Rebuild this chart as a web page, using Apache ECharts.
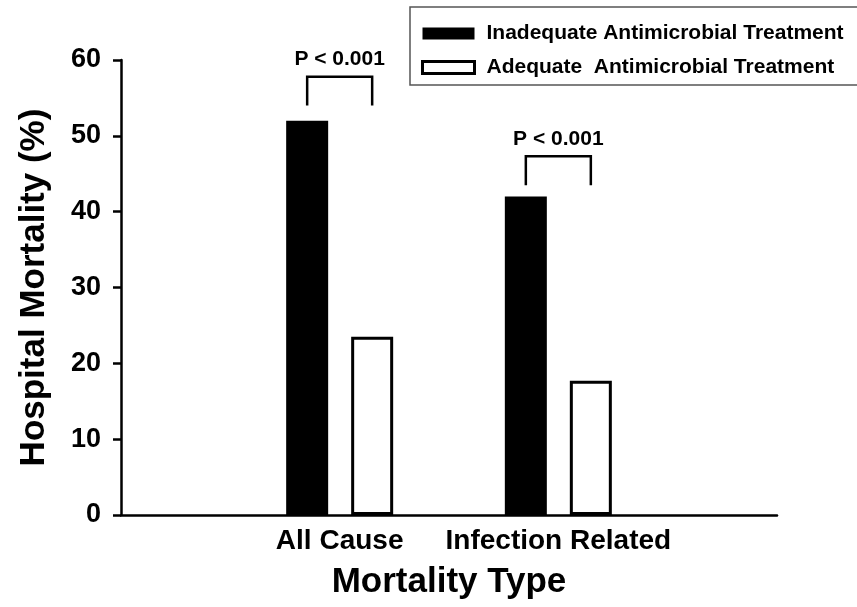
<!DOCTYPE html>
<html>
<head>
<meta charset="utf-8">
<title>Hospital Mortality</title>
<script src="https://cdn.jsdelivr.net/npm/echarts@6/dist/echarts.min.js"></script>
<style>
    html,body{margin:0;padding:0;background:#fff;}
    #main{width:857px;height:607px;}
</style>
</head>
<body>
<div id="main"></div>
<script>
// 数据
var categories = ['', 'All Cause', 'Infection Related', ''];
var inadequate = [null, 52, 42, null];
var adequate = [null, 23.5, 17.7, null];
var seriesNames = ['Inadequate Antimicrobial Treatment', 'Adequate  Antimicrobial Treatment'];
// P值括号: [类目序号, 下端, 上端, 文字]
var pIndex = [1, 2];
var pLow = [54, 43.5];
var pHigh = [57.8, 47.3];
var pText = ['P < 0.001', 'P < 0.001'];
var yTicks = [0, 10, 20, 30, 40, 50, 60];

var font = '"Liberation Sans", Arial, sans-serif';
var barW = 42;
var barGapPx = 23;

function bracketData(){
    var d = [];
    for(var i=0;i<pIndex.length;i++){
        d.push([pIndex[i], pLow[i], pHigh[i], pText[i]]);
    }
    return d;
}

function renderBracket(params, api){
    var off = (barW + barGapPx) / 2;
    var lo = api.coord([api.value(0), api.value(1)]);
    var hi = api.coord([api.value(0), api.value(2)]);
    var x1 = lo[0] - off, x2 = lo[0] + off;
    return {
        type: 'group',
        children: [{
            type: 'polyline',
            shape: {points: [[x1, lo[1]], [x1, hi[1]], [x2, hi[1]], [x2, lo[1]]]},
            style: {stroke: '#000', lineWidth: 2.5, fill: null}
        }, {
            type: 'text',
            x: lo[0], y: hi[1] - 17,
            style: {
                text: api.value(3),
                fill: '#000',
                font: 'bold 21px ' + font,
                align: 'center',
                verticalAlign: 'middle'
            }
        }]
    };
}

function myChart(){
    var chart = echarts.init(document.getElementById('main'));
    var option = {
        backgroundColor: '#fff',
        animation: false,
        grid: {left: 121, right: 80, top: 60, bottom: 92},
        legend: {
            orient: 'vertical',
            left: 421,
            top: 23,
            padding: 0,
            itemWidth: 52,
            itemHeight: 12,
            itemGap: 13,
            selectedMode: false,
            textStyle: {
                fontFamily: font,
                fontWeight: 'bold',
                fontSize: 21,
                lineHeight: 20,
                color: '#000',
                padding: [0, 0, 0, 7]
            },
            data: [
                {name: seriesNames[0], icon: 'rect', itemStyle: {color: '#000'}},
                {name: seriesNames[1], icon: 'rect', itemStyle: {color: '#fff', borderColor: '#000', borderWidth: 3}}
            ]
        },
        graphic: [{
            type: 'rect',
            shape: {x: 410, y: 7, width: 470, height: 78},
            style: {fill: null, stroke: '#555', lineWidth: 1.5},
            z: 10
        }],
        xAxis: {
            type: 'category',
            data: categories,
            boundaryGap: false,
            name: 'Mortality Type',
            nameLocation: 'middle',
            nameGap: 50,
            nameTextStyle: {fontFamily: font, fontWeight: 'bold', fontSize: 35, color: '#000', lineHeight: 35},
            axisLine: {lineStyle: {color: '#000', width: 2.5}},
            axisTick: {show: false},
            axisLabel: {
                interval: 0,
                margin: 12,
                fontFamily: font,
                fontWeight: 'bold',
                fontSize: 28,
                color: '#000'
            },
            splitLine: {show: false}
        },
        yAxis: {
            type: 'value',
            min: yTicks[0],
            max: yTicks[yTicks.length - 1],
            interval: 10,
            name: 'Hospital Mortality (%)',
            nameLocation: 'middle',
            nameGap: 69,
            nameTextStyle: {fontFamily: font, fontWeight: 'bold', fontSize: 35, color: '#000', lineHeight: 35},
            axisLine: {show: true, lineStyle: {color: '#000', width: 2.5}},
            axisTick: {show: true, length: 8, lineStyle: {color: '#000', width: 2.5}},
            axisLabel: {
                margin: 20,
                fontFamily: font,
                fontWeight: 'bold',
                fontSize: 27,
                color: '#000'
            },
            splitLine: {show: false}
        },
        series: [{
            name: seriesNames[0],
            type: 'bar',
            data: inadequate,
            barWidth: barW,
            barGap: (barGapPx / barW * 100) + '%',
            itemStyle: {color: '#000'}
        }, {
            name: seriesNames[1],
            type: 'bar',
            data: adequate,
            barWidth: barW,
            itemStyle: {color: '#fff', borderColor: '#000', borderWidth: 3}
        }, {
            name: 'pvalue',
            type: 'custom',
            renderItem: renderBracket,
            data: bracketData(),
            z: 5
        }]
    };
    chart.setOption(option);
}

myChart();
</script>
</body>
</html>
